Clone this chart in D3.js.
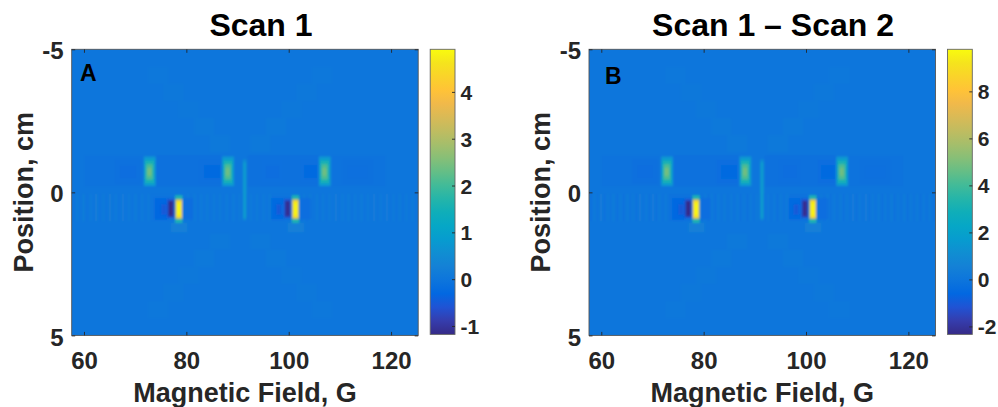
<!DOCTYPE html>
<html>
<head>
<meta charset="utf-8">
<script src="https://cdn.jsdelivr.net/npm/d3@7"></script>
<style>
  html, body { margin: 0; padding: 0; background: #fff; }
  svg { display: block; font-family: "Liberation Sans", Arial, Helvetica, sans-serif; font-weight: bold; }
</style>
</head>
<body>
<svg id="chart" width="998" height="407"></svg>
<script>
// ---- axes and tick labels ----
const fieldExtent = [57.6, 125.3];          // magnetic field, G
const positionExtent = [-5, 5];             // position, cm
const fieldTicks = [60, 80, 100, 120];
const positionTicks = [-5, 0, 5];
const scan1Ticks = [-1, 0, 1, 2, 3, 4];
const diffTicks = [-2, 0, 2, 4, 6, 8];

// MATLAB parula colour map (every third entry of the 64-colour table)
const parula = [
  [0.2081, 0.1663, 0.5292], [0.2081, 0.2386, 0.6771], [0.1253, 0.3242, 0.8303],
  [0.0060, 0.4086, 0.8828], [0.0498, 0.4586, 0.8641], [0.0779, 0.5040, 0.8384],
  [0.0641, 0.5570, 0.8240], [0.0265, 0.6137, 0.8135], [0.0228, 0.6535, 0.7768],
  [0.0590, 0.6838, 0.7254], [0.1453, 0.7098, 0.6646], [0.2586, 0.7317, 0.5954],
  [0.3953, 0.7459, 0.5244], [0.5300, 0.7491, 0.4661], [0.6473, 0.7456, 0.4188],
  [0.7525, 0.7384, 0.3768], [0.8507, 0.7299, 0.3360], [0.9450, 0.7261, 0.2886],
  [0.9990, 0.7653, 0.2164], [0.9789, 0.8271, 0.1633], [0.9589, 0.8949, 0.1132],
  [0.9763, 0.9831, 0.0538]
];

// ---- image cells ----
// each cell: [field from, field to, position from, position to, Scan 1, Scan 1 – Scan 2]
const backgroundCells = [
  [57.6, 125.3, -5, 5, 0, 0]
];

// faint X-shaped ridges through the centre of the scan
const crossCells = [
  [84.5, 88.5, -2.0, -1.4, 0.07, 0.14], [81.5, 85.5, -2.6, -2.0, 0.07, 0.14],
  [78.5, 82.5, -3.2, -2.6, 0.06, 0.12], [75.5, 79.5, -3.8, -3.2, 0.06, 0.12],
  [72.5, 76.5, -4.4, -3.8, 0.05, 0.1],
  [92.5, 96.5, -2.0, -1.4, 0.07, 0.14], [95.5, 99.5, -2.6, -2.0, 0.07, 0.14],
  [98.5, 102.5, -3.2, -2.6, 0.06, 0.12], [101.5, 105.5, -3.8, -3.2, 0.06, 0.12],
  [104.5, 108.5, -4.4, -3.8, 0.05, 0.1],
  [84.5, 88.5, 1.45, 2.0, 0.07, 0.14],  [81.5, 85.5, 2.0, 2.6, 0.07, 0.14],
  [78.5, 82.5, 2.6, 3.2, 0.06, 0.12],   [75.5, 79.5, 3.2, 3.8, 0.06, 0.12],
  [72.5, 76.5, 3.8, 4.4, 0.05, 0.1],
  [92.5, 96.5, 1.45, 2.0, 0.07, 0.14],  [95.5, 99.5, 2.0, 2.6, 0.07, 0.14],
  [98.5, 102.5, 2.6, 3.2, 0.06, 0.12],  [101.5, 105.5, 3.2, 3.8, 0.06, 0.12],
  [104.5, 108.5, 3.8, 4.4, 0.05, 0.1]
];

// darker band above the centre line
const upperBandCells = [
  [60.0, 71.7, -1.3, -0.2, -0.07, -0.14],
  [74.0, 87.0, -1.3, -0.2, -0.1, -0.2],
  [92.0, 106.0, -1.3, -0.2, -0.1, -0.2],
  [108.2, 119.0, -1.3, -0.2, -0.07, -0.14],
  [66.0, 71.0, -1.15, -0.3, -0.12, -0.24],
  [67.0, 70.2, -0.95, -0.5, -0.18, -0.36],
  [82.5, 87.0, -1.15, -0.3, -0.16, -0.32],
  [83.5, 86.5, -0.95, -0.5, -0.26, -0.52],
  [94.5, 99.0, -1.15, -0.3, -0.12, -0.24],
  [95.5, 98.2, -0.95, -0.5, -0.18, -0.36],
  [102.3, 106.0, -1.15, -0.3, -0.16, -0.32],
  [103.0, 105.5, -0.95, -0.5, -0.26, -0.52],
  [110.5, 116.5, -1.15, -0.3, -0.1, -0.2],
  [111.5, 115.5, -0.95, -0.5, -0.15, -0.3]
];

// striated band below the centre line
const lowerBandCells = [
  [57.6, 125.3, 0.05, 1.02, -0.05, -0.1],
  [58.45, 58.95, 0.05, 1.02, 0.15, 0.3],  [59.65, 60.15, 0.05, 1.02, 0.2, 0.4],
  [61.05, 61.55, 0.05, 1.02, 0.14, 0.28], [62.15, 62.65, 0.05, 1.02, 0.2, 0.4],
  [63.55, 64.05, 0.05, 1.02, 0.15, 0.3],  [64.85, 65.35, 0.05, 1.02, 0.2, 0.4],
  [65.95, 66.45, 0.05, 1.02, 0.13, 0.26], [67.35, 67.85, 0.05, 1.02, 0.18, 0.36],
  [68.55, 69.05, 0.05, 1.02, 0.14, 0.28], [69.85, 70.35, 0.05, 1.02, 0.18, 0.36],
  [71.15, 71.65, 0.05, 1.02, 0.14, 0.28], [72.35, 72.85, 0.05, 1.02, 0.12, 0.24],
  [80.05, 80.55, 0.05, 1.02, 0.12, 0.24], [81.35, 81.85, 0.05, 1.02, 0.14, 0.28],
  [82.65, 83.15, 0.05, 1.02, 0.12, 0.24], [83.85, 84.35, 0.05, 1.02, 0.16, 0.32],
  [85.15, 85.65, 0.05, 1.02, 0.12, 0.24], [86.35, 86.85, 0.05, 1.02, 0.15, 0.3],
  [87.65, 88.15, 0.05, 1.02, 0.12, 0.24], [88.95, 89.45, 0.05, 1.02, 0.14, 0.28],
  [90.15, 90.65, 0.05, 1.02, 0.12, 0.24], [92.35, 92.85, 0.05, 1.02, 0.13, 0.26],
  [93.55, 94.05, 0.05, 1.02, 0.15, 0.3],  [94.85, 95.35, 0.05, 1.02, 0.12, 0.24],
  [96.05, 96.55, 0.05, 1.02, 0.13, 0.26], [102.75, 103.25, 0.05, 1.02, 0.12, 0.24],
  [103.95, 104.45, 0.05, 1.02, 0.15, 0.3], [105.25, 105.75, 0.05, 1.02, 0.13, 0.26],
  [106.45, 106.95, 0.05, 1.02, 0.16, 0.32], [107.75, 108.25, 0.05, 1.02, 0.13, 0.26],
  [108.95, 109.45, 0.05, 1.02, 0.18, 0.36], [110.25, 110.75, 0.05, 1.02, 0.14, 0.28],
  [111.45, 111.95, 0.05, 1.02, 0.18, 0.36], [112.75, 113.25, 0.05, 1.02, 0.14, 0.28],
  [113.95, 114.45, 0.05, 1.02, 0.18, 0.36], [115.25, 115.75, 0.05, 1.02, 0.14, 0.28],
  [116.45, 116.95, 0.05, 1.02, 0.18, 0.36], [117.75, 118.25, 0.05, 1.02, 0.14, 0.28],
  [118.95, 119.45, 0.05, 1.02, 0.17, 0.34], [120.25, 120.75, 0.05, 1.02, 0.13, 0.26],
  [121.45, 121.95, 0.05, 1.02, 0.16, 0.32], [122.75, 123.25, 0.05, 1.02, 0.13, 0.26],
  [123.95, 124.45, 0.05, 1.02, 0.15, 0.3],
  [73.8, 76.3, 0.2, 0.95, -0.3, -0.6],
  [79.4, 81.4, 0.2, 0.95, -0.18, -0.36],
  [96.6, 99.0, 0.2, 0.95, -0.26, -0.52],
  [102.2, 104.3, 0.2, 0.95, -0.18, -0.36],
  [75.1, 76.1, 0.42, 0.78, -0.5, -1.0],
  [97.6, 98.5, 0.42, 0.78, -0.5, -1.0],
  [77.0, 80.2, 1.05, 1.4, 0.22, 0.44],
  [99.8, 103.0, 1.05, 1.4, 0.22, 0.44]
];

// thin vertical line near 91.4 G
const lineCells = [
  [91.05, 91.75, -1.15, 0.98, 0.5, 1.0],
  [91.15, 91.65, -1.05, 0.9, 0.9, 1.8]
];

// three green lines above the centre
const blobCells = [
  [71.7, 74.0, -1.25, -0.22, 0.8, 1.6],   [71.95, 73.7, -1.12, -0.32, 1.5, 3.0],
  [72.2, 73.4, -0.98, -0.45, 2.1, 4.2],   [72.4, 73.15, -0.85, -0.58, 2.45, 4.9],
  [87.0, 89.3, -1.25, -0.22, 0.8, 1.6],   [87.25, 89.0, -1.12, -0.32, 1.5, 3.0],
  [87.5, 88.7, -0.98, -0.45, 2.1, 4.2],   [87.7, 88.45, -0.85, -0.58, 2.4, 4.8],
  [105.9, 108.2, -1.25, -0.22, 0.8, 1.6], [106.15, 107.9, -1.12, -0.32, 1.5, 3.0],
  [106.4, 107.6, -0.98, -0.45, 2.1, 4.2], [106.6, 107.35, -0.85, -0.58, 2.4, 4.8]
];

// negative lobes and strong positive lines below the centre
const peakCells = [
  [76.25, 77.7, 0.22, 0.9, -0.55, -1.1],  [76.5, 77.45, 0.3, 0.84, -1.18, -2.34],
  [99.05, 100.5, 0.22, 0.9, -0.55, -1.1], [99.3, 100.25, 0.3, 0.84, -1.1, -2.2],
  [77.8, 79.25, 0.1, 1.07, 1.6, 3.2],     [77.9, 79.15, 0.25, 0.92, 3.6, 7.2],
  [78.05, 79.0, 0.3, 0.88, 4.6, 9.2],     [78.25, 78.8, 0.38, 0.8, 4.91, 9.79],
  [100.6, 102.05, 0.1, 1.07, 1.6, 3.2],   [100.7, 101.95, 0.25, 0.92, 3.6, 7.2],
  [100.85, 101.8, 0.3, 0.88, 4.6, 9.2],   [101.05, 101.6, 0.38, 0.8, 4.85, 9.7]
];

const allCells = [].concat(backgroundCells, crossCells, upperBandCells,
  lowerBandCells, lineCells, blobCells, peakCells);

// ---- drawing ----
const svg = d3.select("#chart");
const textColor = "#262626";
const plainNumber = d => String(d);   // hyphen-minus, no trailing decimals
const parulaColors = parula.map(c => d3.rgb(c[0] * 255, c[1] * 255, c[2] * 255).formatHex());
const parulaInterp = d3.piecewise(d3.interpolateRgb, parulaColors);

const plotTop = 49.3, plotBottom = 335.4, plotWidth = 346.5;
const panels = [
  { title: "Scan 1", letter: "A", left: 71.7, titleX: 261, letterX: 80, letterY: 81,
    ticks: scan1Ticks, col: 4, id: "a" },
  { title: "Scan 1 \u2013 Scan 2", letter: "B", left: 589, titleX: 773, letterX: 605, letterY: 84,
    ticks: diffTicks, col: 5, id: "b" }
];

const defs = svg.append("defs");
defs.append("filter").attr("id", "soft")
  .attr("x", "-5%").attr("y", "-5%").attr("width", "110%").attr("height", "110%")
  .append("feGaussianBlur").attr("stdDeviation", 0.9);

const grad = defs.append("linearGradient").attr("id", "parulaGrad")
  .attr("x1", 0).attr("y1", 1).attr("x2", 0).attr("y2", 0);
grad.selectAll("stop").data(parulaColors).join("stop")
  .attr("offset", (d, i) => i / (parulaColors.length - 1))
  .attr("stop-color", d => d);

panels.forEach(p => {
  const x0 = p.left, x1 = p.left + plotWidth;
  const x = d3.scaleLinear().domain(fieldExtent).range([x0, x1]);
  const y = d3.scaleLinear().domain(positionExtent).range([plotTop, plotBottom]);
  const extent = d3.extent(allCells, d => d[p.col]);
  const t = d3.scaleLinear().domain(extent).range([0, 1]).clamp(true);
  const color = v => parulaInterp(t(v));

  defs.append("clipPath").attr("id", "clip-" + p.id)
    .append("rect").attr("x", x0).attr("y", plotTop)
    .attr("width", x1 - x0).attr("height", plotBottom - plotTop);

  const img = svg.append("g").attr("clip-path", `url(#clip-${p.id})`)
    .append("g").attr("filter", "url(#soft)");

  // the first cell is the background; it is padded so the blur keeps a clean edge
  img.selectAll("rect").data(allCells).join("rect")
    .attr("x", (d, i) => x(d[0]) - (i === 0 ? 4 : 0))
    .attr("y", (d, i) => y(d[2]) - (i === 0 ? 4 : 0))
    .attr("width", (d, i) => x(d[1]) - x(d[0]) + (i === 0 ? 8 : 0))
    .attr("height", (d, i) => y(d[3]) - y(d[2]) + (i === 0 ? 8 : 0))
    .attr("fill", d => color(d[p.col]));

  // axes box
  svg.append("rect").attr("x", x0).attr("y", plotTop)
    .attr("width", x1 - x0).attr("height", plotBottom - plotTop)
    .attr("fill", "none").attr("stroke", "#555").attr("stroke-width", 0.9);

  const styleAxis = g => {
    g.attr("font-size", null).attr("font-family", null).attr("fill", null);
    g.select(".domain").remove();
    g.selectAll(".tick line").attr("stroke", textColor).attr("stroke-width", 0.9);
    g.selectAll("text").attr("fill", textColor);
  };

  // x axis: ticks inside, bottom and top
  svg.append("g").attr("transform", `translate(0,${plotBottom})`)
    .call(d3.axisBottom(x).tickValues(fieldTicks).tickFormat(plainNumber)
      .tickSizeInner(-3.5).tickSizeOuter(0))
    .call(styleAxis)
    .call(g => g.selectAll("text").attr("y", 34).attr("dy", null).attr("font-size", 24));
  svg.append("g").attr("transform", `translate(0,${plotTop})`)
    .call(d3.axisTop(x).tickValues(fieldTicks).tickSizeInner(-3.5).tickSizeOuter(0).tickFormat(""))
    .call(styleAxis);

  // y axis: ticks inside, left and right
  svg.append("g").attr("transform", `translate(${x0},0)`)
    .call(d3.axisLeft(y).tickValues(positionTicks).tickFormat(plainNumber)
      .tickSizeInner(-3.5).tickSizeOuter(0).tickPadding(8))
    .call(styleAxis)
    .call(g => g.selectAll("text").attr("dy", "0.4em").attr("font-size", 24));
  svg.append("g").attr("transform", `translate(${x1},0)`)
    .call(d3.axisRight(y).tickValues(positionTicks).tickSizeInner(-3.5).tickSizeOuter(0).tickFormat(""))
    .call(styleAxis);

  // colour bar
  const cbLeft = x1 + 12, cbWidth = 24.8;
  const cb = d3.scaleLinear().domain(extent).range([plotBottom - 1, plotTop]);
  svg.append("rect").attr("x", cbLeft).attr("y", cb.range()[1])
    .attr("width", cbWidth).attr("height", cb.range()[0] - cb.range()[1])
    .attr("fill", "url(#parulaGrad)").attr("stroke", "#666").attr("stroke-width", 0.9);
  svg.append("g").attr("transform", `translate(${cbLeft + cbWidth},0)`)
    .call(d3.axisRight(cb).tickValues(p.ticks).tickFormat(plainNumber)
      .tickSizeInner(-3).tickSizeOuter(0).tickPadding(5.5))
    .call(styleAxis)
    .call(g => g.selectAll("text").attr("dy", "0.36em").attr("font-size", 21));

  // texts
  svg.append("text").attr("x", p.titleX).attr("y", 35.5)
    .attr("text-anchor", "middle").attr("font-size", 32).attr("fill", "#000")
    .text(p.title);
  svg.append("text").attr("x", p.letterX).attr("y", p.letterY)
    .attr("font-size", 23).attr("fill", "#000").text(p.letter);
  svg.append("text").attr("x", (x0 + x1) / 2).attr("y", 401.5)
    .attr("text-anchor", "middle").attr("font-size", 27).attr("fill", textColor)
    .text("Magnetic Field, G");
  svg.append("text")
    .attr("transform", `translate(${x0 - 39},${(plotTop + plotBottom) / 2}) rotate(-90)`)
    .attr("text-anchor", "middle").attr("font-size", 27).attr("fill", textColor)
    .text("Position, cm");
});
</script>
</body>
</html>
